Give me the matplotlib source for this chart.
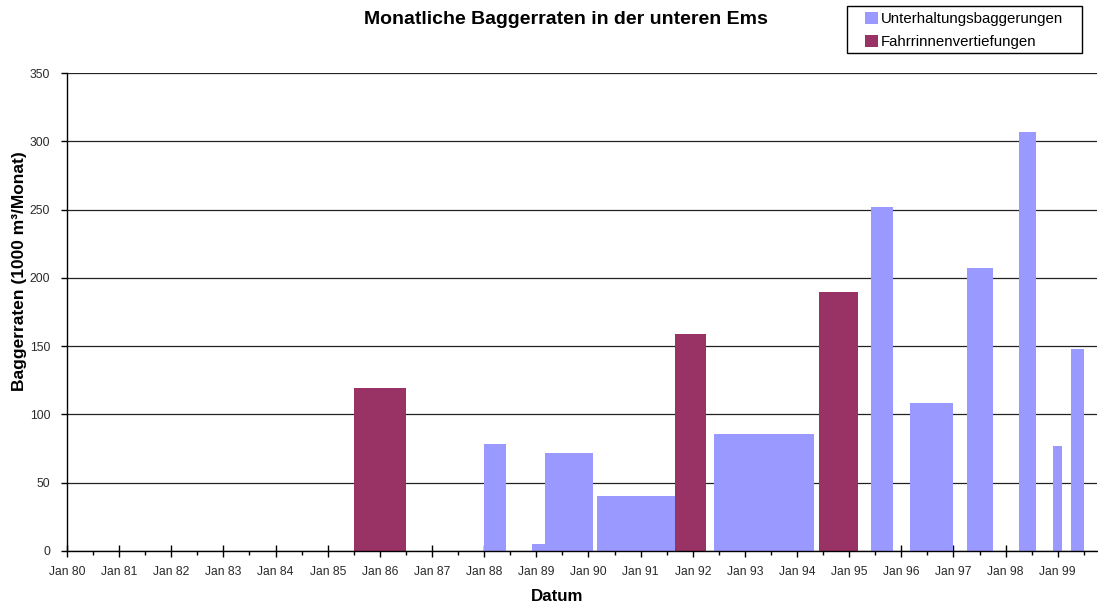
import matplotlib
matplotlib.use("Agg")
import matplotlib.pyplot as plt
from matplotlib.patches import Patch, Rectangle

plt.rcParams['font.family'] = ['Liberation Sans', 'DejaVu Sans']

# dredging campaigns: first month, last month, rate (1000 m3/month)
unterhaltung_start = ["1988-01", "1988-12", "1989-03", "1990-03", "1992-06",
                      "1995-06", "1996-03", "1997-04", "1998-04", "1998-12", "1999-04"]
unterhaltung_end = ["1988-05", "1989-02", "1990-01", "1991-08", "1994-04",
                    "1995-10", "1996-12", "1997-09", "1998-07", "1999-01", "1999-06"]
unterhaltung_rate = [78, 5, 72, 40, 86, 252, 108, 207, 307, 77, 148]

fahrrinne_start = ["1985-07", "1991-09", "1994-06"]
fahrrinne_end = ["1986-06", "1992-03", "1995-02"]
fahrrinne_rate = [119, 159, 190]

tick_years = list(range(80, 100))

col_u = "#9999FF"
col_f = "#993366"


def month_index(s):
    y, m = s.split("-")
    return (int(y) - 1980) * 12 + int(m) - 1


def expand(starts, ends, rates):
    xs, hs = [], []
    for s, e, r in zip(starts, ends, rates):
        for m in range(month_index(s), month_index(e) + 1):
            xs.append(m)
            hs.append(r)
    return xs, hs


fig = plt.figure(figsize=(10.98, 6.06), dpi=100)
ax = fig.add_axes([0.061, 0.0908, 0.938, 0.7887])

xu, hu = expand(unterhaltung_start, unterhaltung_end, unterhaltung_rate)
xf, hf = expand(fahrrinne_start, fahrrinne_end, fahrrinne_rate)
ax.bar(xu, hu, width=1.0, align="edge", color=col_u, linewidth=0, zorder=3)
ax.bar(xf, hf, width=1.0, align="edge", color=col_f, linewidth=0, zorder=3)

ax.set_xlim(0, 237)
ax.set_ylim(0, 350)
ax.set_yticks(range(0, 351, 50))
ax.yaxis.grid(True, color="#222222", linewidth=0.9, zorder=1)

ax.set_xticks([(y - 80) * 12 for y in tick_years])
ax.set_xticklabels(["Jan %02d" % y for y in tick_years])
ax.set_xticks([(y - 80) * 12 + 6 for y in tick_years], minor=True)
ax.tick_params(axis="x", which="major", direction="inout", length=8, width=1,
               labelsize=8.7, labelcolor="#2a2a2a", pad=7)
ax.tick_params(axis="x", which="minor", direction="out", length=3, width=1)
ax.tick_params(axis="y", direction="out", length=4, width=1,
               labelsize=8.7, labelcolor="#2a2a2a", pad=8)

for side in ["top", "right"]:
    ax.spines[side].set_visible(False)
ax.spines["left"].set_linewidth(1)
ax.spines["bottom"].set_linewidth(1)
ax.spines["bottom"].set_zorder(4)

ax.set_xlabel("Datum", fontsize=12.2, fontweight="bold")
ax.xaxis.set_label_coords(0.476, -0.079)
ax.set_ylabel("Baggerraten (1000 m³/Monat)", fontsize=12.5, fontweight="bold")
ax.yaxis.set_label_coords(-0.039, 0.585)

fig.text(0.515, 0.968, "Monatliche Baggerraten in der unteren Ems",
         ha="center", va="center", fontsize=14, fontweight="bold")

# legend box drawn separately so padding can match the original
fig.patches.append(Rectangle((0.7714, 0.9125), 0.2140, 0.0776, transform=fig.transFigure,
                             facecolor="white", edgecolor="black", linewidth=1))
handles = [Patch(facecolor=col_u, edgecolor="none"), Patch(facecolor=col_f, edgecolor="none")]
leg = fig.legend(handles, ["Unterhaltungsbaggerungen", "Fahrrinnenvertiefungen"],
                 loc="upper left", bbox_to_anchor=(0.7878, 0.981), fontsize=10.8,
                 frameon=False, handlelength=0.85, handleheight=0.9,
                 handletextpad=0.2, borderpad=0, borderaxespad=0, labelspacing=0.6)

fig.savefig("out.png", dpi=100)
